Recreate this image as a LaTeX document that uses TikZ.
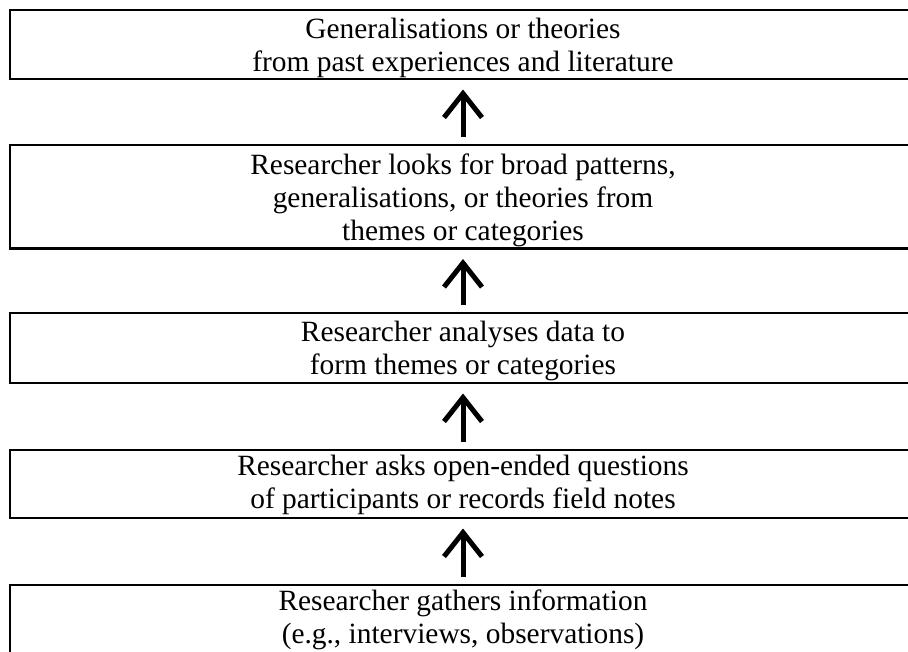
\documentclass[tikz,border=0pt]{standalone}
\usepackage{fontspec}
\setmainfont{Liberation Serif}
\usetikzlibrary{arrows.meta}
\begin{document}
\begin{tikzpicture}[x=1pt,y=-1pt,
  box/.style={draw, line width=2.7pt, inner sep=0pt, outer sep=0pt, minimum width=906pt},
  txt/.style={inner sep=0pt, align=center, font=\fontsize{29.4pt}{33pt}\selectfont},
  uparrow/.style={line width=5pt, -{Straight Barb[length=24pt, width=38pt, line width=5pt]},
                  shorten <=8pt, shorten >=10.5pt}]
\useasboundingbox (0,0) rectangle (908,651);
\clip (0,0) rectangle (908,651);
\node[box, minimum height=69pt]   (b1) at (463,44.5)  {};
\node[box, minimum height=103.5pt](b2) at (463,196.75){};
\node[box, minimum height=70pt]   (b3) at (463,348)   {};
\node[box, minimum height=68pt]   (b4) at (463,484)   {};
\node[box, minimum height=69pt]   (b5) at (463,619.5) {};
\node[txt, anchor=base] (t1) at (463,71.5) {Generalisations or theories\\from past experiences and literature};
\node[txt, anchor=base] (t2) at (463,240.5){Researcher looks for broad patterns,\\generalisations, or theories from\\themes or categories};
\node[txt, anchor=base] (t3) at (463,374)  {Researcher analyses data to\\form themes or categories};
\node[txt, anchor=base] (t4) at (463,508.5){Researcher asks open-ended questions\\of participants or records field notes};
\node[txt, anchor=base] (t5) at (463,643.3){Researcher gathers information\\(e.g., interviews, observations)};
\draw[uparrow] (b2.north) -- (b1.south);
\draw[uparrow] (b3.north) -- (b2.south);
\draw[uparrow] (b4.north) -- (b3.south);
\draw[uparrow] (b5.north) -- (b4.south);
\end{tikzpicture}
\end{document}
